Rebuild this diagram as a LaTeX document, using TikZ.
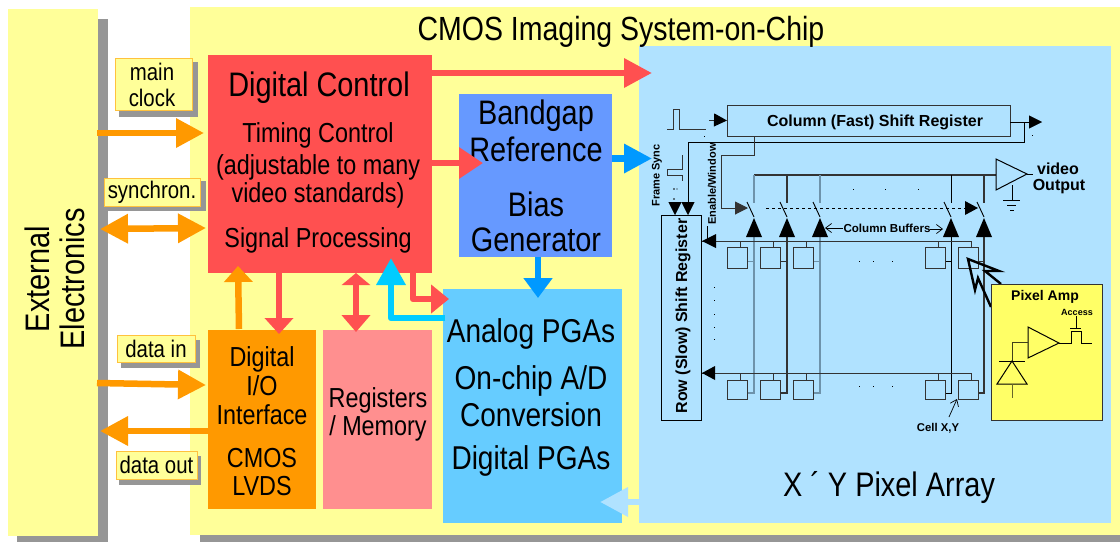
\documentclass[tikz,border=0pt]{standalone}
\usepackage{fontspec}
\setmainfont[FakeStretch=0.85]{Liberation Sans}
\newfontfamily\wideb[BoldFont={Liberation Sans Bold}]{Liberation Sans}
\usetikzlibrary{arrows.meta}
\definecolor{cyel}{HTML}{FFFF99}
\definecolor{cyel2}{HTML}{FFFF66}
\definecolor{cred}{HTML}{FF5050}
\definecolor{cpink}{HTML}{FF8F8F}
\definecolor{corg}{HTML}{FF9900}
\definecolor{cbl1}{HTML}{6699FF}
\definecolor{cbl2}{HTML}{66CCFF}
\definecolor{cbl3}{HTML}{B0E2FF}
\definecolor{ccy}{HTML}{00CCFF}
\definecolor{cfs}{HTML}{0099FF}
\definecolor{cgr}{HTML}{969696}
\definecolor{cline}{HTML}{333333}
\definecolor{cmid}{HTML}{6E93AB}
\newcommand\fs[1]{\fontsize{#1}{#1}\selectfont}
\tikzset{
 box/.style={anchor=north west,inner sep=0pt,outer sep=0pt,draw=none},
 txt/.style={inner sep=0pt,outer sep=0pt,align=center,text=black},
 t34/.style={txt,font=\fs{34}},
 t33/.style={txt,font=\fs{33}},
 t27/.style={txt,font=\fs{27.5}},
 tb/.style={txt,font=\wideb\bfseries\fs{#1}},
 tagt/.style={txt,font=\fs{24}},
 tag/.style={inner sep=0pt,outer sep=0pt,draw=corg!60!cyel,fill=cyel,line width=1pt},
 big/.style={line width=#1,line join=round},
 one/.style={-{Triangle[length=28pt,width=28pt]}},
 two/.style={{Triangle[length=28pt,width=28pt]}-{Triangle[length=28pt,width=28pt]}},
 wire/.style={draw=cline,line width=1pt},
 tip/.style={-{Triangle[length=13pt,width=13pt]}},
 openhead/.style={-{Straight Barb[length=6pt,width=9pt]}},
}
\begin{document}
\begin{tikzpicture}[x=1pt,y=-1pt]
\useasboundingbox (0,0) rectangle (1120,542);
% shadows and panels
\fill[cgr] (17,19) rectangle (108,542);
\fill[cgr] (200,17) rectangle (1120,542);
\node[box,fill=cyel,minimum width=90pt,minimum height=527pt] (ext) at (8,9) {};
\node[box,fill=cyel,minimum width=930pt,minimum height=528pt] (chip) at (190,7) {};
\node[box,fill=cbl3,minimum width=472pt,minimum height=477pt] (arr) at (639,46) {};
\node[box,fill=cred,minimum width=224pt,minimum height=218pt] (dc) at (208,55) {};
\node[box,fill=cbl1,minimum width=153pt,minimum height=163pt] (bg) at (459,94) {};
\node[box,fill=cbl2,minimum width=179pt,minimum height=234pt] (pga) at (443,289) {};
\node[box,fill=corg,minimum width=108pt,minimum height=179pt] (io) at (208,330) {};
\node[box,fill=cpink,minimum width=109pt,minimum height=179pt] (reg) at (323,330) {};
% titles
\node[t34,rotate=90] (e1) at (37,279) {External};
\node[t34,rotate=90] (e2) at (72,279) {Electronics};
\node[txt,font=\fs{33.5}] (title) at (621,32) {CMOS Imaging System-on-Chip};
\node[t34] (t1) at (319,88) {Digital Control};
\node[t27] (t2) at (318,135) {Timing Control};
\node[t27] (t3) at (318,167) {(adjustable to many};
\node[t27] (t4) at (318,195) {video standards)};
\node[t27] (t5) at (318,240) {Signal Processing};
\node[t34] (b1) at (536,116) {Bandgap};
\node[t34] (b2) at (536,149) {Reference};
\node[t34] (b3) at (536,204) {Bias};
\node[t34] (b4) at (536,240) {Generator};
\node[t33] (p1) at (531,334) {Analog PGAs};
\node[t33] (p2) at (531,381) {On-chip A/D};
\node[t33] (p3) at (531,415) {Conversion};
\node[t33] (p4) at (531,461) {Digital PGAs};
\node[t27] (i1) at (262,359) {Digital};
\node[t27] (i2) at (262,386) {I/O};
\node[t27] (i3) at (262,415) {Interface};
\node[t27] (i4) at (262,458) {CMOS};
\node[t27] (i5) at (262,486) {LVDS};
\node[t27] (r1) at (378,400) {Registers};
\node[t27] (r2) at (378,428) {/ Memory};
\node[txt,font=\fs{34}] (xy) at (889,488) {X ´ Y Pixel Array};
% tags
\fill[cgr] (119,62) rectangle (198,117);
\fill[cgr] (108,181) rectangle (206,211);
\fill[cgr] (121,340) rectangle (200,368);
\fill[cgr] (119,456) rectangle (201,485);
\node[box,tag,minimum width=77pt,minimum height=52pt] (tg1) at (115,58) {};
\node[tagt] (tg1a) at (152,72) {main};
\node[tagt] (tg1b) at (152,98) {clock};
\node[box,tag,minimum width=96pt,minimum height=28pt] (tg2) at (104,178) {};
\node[tagt] at (tg2.center) (tg2t) {synchron.};
\node[box,tag,minimum width=78pt,minimum height=27pt] (tg3) at (117,335) {};
\node[tagt] at (tg3.center) (tg3t) {data in};
\node[box,tag,minimum width=81pt,minimum height=28pt] (tg4) at (116,451) {};
\node[tagt] at (tg4.center) (tg4t) {data out};
% block arrows
\coordinate (a1s) at (97,133); \coordinate (a1e) at (204,133);
\draw[big=6.5pt,corg,one] (a1s) -- (a1e);
\coordinate (a2s) at (100,229); \coordinate (a2e) at (206,228);
\draw[big=6.5pt,corg,two] (a2s) -- (a2e);
\coordinate (a3s) at (97,383); \coordinate (a3e) at (206,385);
\draw[big=6.5pt,corg,one] (a3s) -- (a3e);
\coordinate (a4s) at (208,431); \coordinate (a4e) at (100,431);
\draw[big=6.5pt,corg,one] (a4s) -- (a4e);
\coordinate (a5s) at (239,329); \coordinate (a5e) at (238,266);
\draw[big=6.5pt,corg,-{Triangle[length=16pt,width=28pt]}] (a5s) -- (a5e);
\coordinate (a6s) at (279,273); \coordinate (a6e) at (279,334);
\draw[big=6.5pt,cred,-{Triangle[length=16pt,width=28pt]}] (a6s) -- (a6e);
\coordinate (a7s) at (356,273); \coordinate (a7e) at (356,332);
\draw[big=6.5pt,cred,{Triangle[length=12pt,width=28pt]}-{Triangle[length=17pt,width=28pt]}] (a7s) -- (a7e);
\coordinate (a8s) at (413,273); \coordinate (a8e) at (449,299);
\draw[big=6.5pt,cred,-{Triangle[length=18pt,width=28pt]}] (a8s) |- (a8e);
\coordinate (a9s) at (445,318); \coordinate (a9e) at (391,258);
\draw[big=6.5pt,ccy,-{Triangle[length=27pt,width=28pt]}] (a9s) -| (a9e);
\coordinate (a10s) at (432,73); \coordinate (a10e) at (652,73);
\draw[big=6.5pt,cred,one] (a10s) -- (a10e);
\coordinate (a11s) at (432,163); \coordinate (a11e) at (483,163);
\draw[big=6.5pt,cred,-{Triangle[length=24pt,width=30pt]}] (a11s) -- (a11e);
\coordinate (a12s) at (612,158.5); \coordinate (a12e) at (652,158.5);
\draw[big=6.5pt,cfs,one] (a12s) -- (a12e);
\coordinate (a13s) at (538,257); \coordinate (a13e) at (538,298);
\draw[big=6.5pt,cfs,-{Triangle[length=20pt,width=28pt]}] (a13s) -- (a13e);
\coordinate (a14s) at (639,502); \coordinate (a14e) at (600,502);
\draw[big=6.5pt,cbl3,one] (a14s) -- (a14e);
% pixel array circuit
\node[box,draw=cline,line width=1pt,minimum width=283pt,minimum height=31pt] (csr) at (727,105) {};
\node[tb=16] (csrt) at (875,122) {Column (Fast) Shift Register};
\node[box,draw=black,line width=1pt,minimum width=40pt,minimum height=205pt] (rsr) at (661,215) {};
\node[tb=16,rotate=90] (rsrt) at (683,316) {Row (Slow) Shift Register};
\node[tb=11,rotate=90] (fs) at (657,175.5) {Frame Sync};
\node[tb=11,rotate=90] (ew) at (712,184) {Enable/Window};
% pulses
\draw[wire] (667,129) -- (673,129) -- (673,109) -- (679,109) -- (679,129) -- (706,129);
\draw[wire] (709,120) -- (714,120);
\draw[black,line width=1pt,tip] (714,120) -- (csr.west);
\draw[wire] (682,155) -- (682,169) -- (667,169) -- (667,175) -- (682,175) -- (682,181);
\draw[black,tip] (675,202) -- (675,215);
\fill (674,189) circle (.8pt) (674,199) circle (.8pt) (677,189) circle (.6pt);
\draw[black,tip] (688,142) -- (688,215);
% fast register output and enable line
\coordinate (co) at (1042,122);
\draw[black,tip] (csr.east |- co) -- (co);
\draw[black,line width=1pt] (1024,122) -- (1024,142) -- (688,142);
\draw[cline,line width=1pt,tip] (754,136) -- (754,155) -- (721,155) -- (721,208) -- (748,208);
% bus and amplifier
\draw[cline,line width=1.2pt] (754,175) -- (996,175);
\draw[black,line width=1pt] (996,159) -- (996,190) -- (1027,174) -- cycle;
\draw[black,line width=1pt] (1027,174) -- (1033,174);
\draw[black,line width=1pt] (1012,185) -- (1012,200);
\draw[black,line width=1pt] (1003,200) -- (1020,200) (1007,205) -- (1016,205) (1010,210) -- (1014,210);
\node[tb=16] (v1) at (1058,169) {video};
\node[tb=16] (v2) at (1059,187) {Output};
% dashed
\draw[black,line width=1pt,dashed] (766,208) -- (965,208);
\fill (965,201) -- (978,208) -- (965,215) -- cycle;
% columns
\foreach \x/\c/\w in {754/cmid/1.3,787/cline/1.3,820/cmid/1.3,951/black/0.9,984/cline/1.1}{
  \draw[draw=\c,line width=\w pt] (\x,175) -- (\x,203);
  \draw[black,line width=.9pt] (\x-7,202) -- (\x,217);
  \draw[draw=\c,line width=\w pt] (\x,237) -- (\x,393) -- (\x-7,393);
  \draw[draw=\c,line width=1pt] (\x,261) -- (\x-7,261);
  \fill (\x,218) -- (\x-8,237) -- (\x+8,237) -- cycle;
}
% row lines and cells
\draw[cline,line width=1pt] (702,241) -- (972,241);
\draw[cline,line width=1pt] (702,373) -- (972,373);
\fill (702,241) -- (716,234) -- (716,248) -- cycle;
\fill (702,373) -- (715,366) -- (715,380) -- cycle;
\draw[black,line width=.8pt] (707,226) -- (707,241);
\foreach \x in {727,760,793,925,958}{
  \draw[cline,line width=1pt] (\x+13,241) -- (\x+13,247);
  \draw[cline,line width=1pt] (\x+13,373) -- (\x+13,380);
  \draw[draw=cline,fill=cbl3,line width=1pt] (\x,247) rectangle (\x+20,268);
  \draw[draw=cline,fill=cbl3,line width=1pt] (\x,380) rectangle (\x+20,399);
}
% dots
\foreach \x/\y in {714/287,714/300,714/314,714/327,714/339,859/261,873/261,892/261,859/386,873/386,892/386,853/189,885/189,918/189,1032/135,704/136}{
  \fill (\x-.5,\y-.5) rectangle (\x+.5,\y+.5);
}
% buffers label
\node[tb=11.6] (cb) at (887,228) {Column Buffers};
\draw[black,line width=.7pt,openhead] (843,228) -- (825,228);
\draw[black,line width=.7pt,openhead] (930,229) -- (943,229);
% cell label
\node[tb=11.3] (cxy) at (938,428) {Cell X,Y};
\draw[black,line width=.7pt,openhead] (949,417) -- (957,399);
% pixel amp
\draw[black,line width=2.4pt,line join=miter] (1001,284) -- (985,271) -- (999,271) -- (968,259) -- (975,290) -- (978,278) -- (991,307);
\node[box,fill=cyel2,draw=cline,line width=1pt,minimum width=111pt,minimum height=136pt] (amp) at (991,284) {};
\node[tb=14] (at) at (1045,297) {Pixel Amp};
\node[tb=9] (ac) at (1077,312) {Access};
\draw[black,line width=1pt] (1028,327) -- (1028,358) -- (1059,343) -- cycle;
\draw[black,line width=1pt] (1059,343) -- (1071,343) -- (1071,331) -- (1081,331) -- (1081,343) -- (1092,343);
\draw[black,line width=1pt] (1076,316) -- (1076,328) (1070,328) -- (1081,328);
\draw[black!75!cyel2,line width=1pt] (1028,342) -- (1012,342) -- (1012,361);
\draw[black,line width=1pt] (999,361) -- (1025,361);
\draw[black,line width=1pt] (1012,361) -- (997,384) -- (1027,384) -- cycle;
\draw[black!60!cyel2,line width=1pt] (1012,384) -- (1012,398);
\end{tikzpicture}
\end{document}
